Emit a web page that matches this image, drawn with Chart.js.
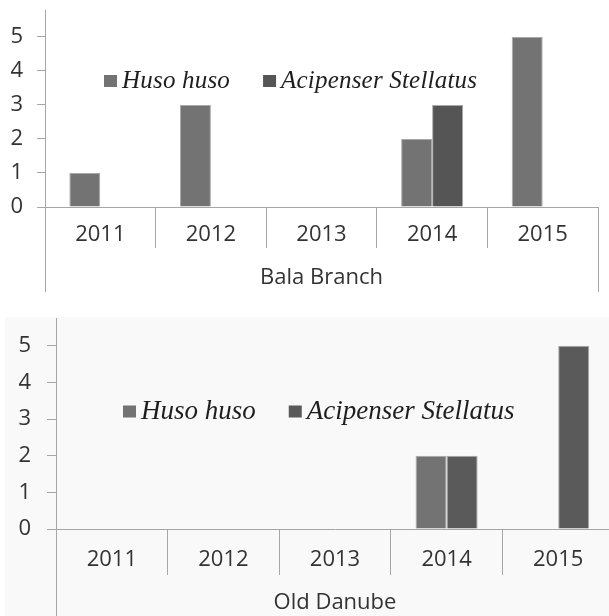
<!DOCTYPE html>
<html lang="en">
<head>
<meta charset="UTF-8">
<title>Sturgeon records</title>
<script src="https://cdn.jsdelivr.net/npm/chart.js"></script>
<style>
    body { margin: 0; width: 609px; height: 616px; overflow: hidden; background: #fff; position: relative; }
    #balaChart { position: absolute; left: 0; top: 0; }
    #danubeBox { position: absolute; left: 5px; top: 317px; width: 604px; height: 299px; background: #f9f9f9; overflow: hidden; }
    #danubeChart { position: absolute; left: 0; top: 0; }
</style>
</head>
<body>
<canvas id="balaChart" width="609" height="296"></canvas>
<div id="danubeBox"><canvas id="danubeChart" width="609" height="299"></canvas></div>
<script>
// values
const years = ['2011', '2012', '2013', '2014', '2015'];
const species = ['Huso huso', 'Acipenser Stellatus'];
const balaHuso = [1, 3, 0, 2, 5];
const balaStellatus = [0, 0, 0, 3, 0];
const danubeHuso = [0, 0, 0, 2, 0];
const danubeStellatus = [0, 0, 0, 2, 5];

const axisColor = '#a6a6a6';
const textColor = '#333333';
const labelFont = { family: 'Open Sans', size: 22 };

// outer category lines + legend drawn inside the plot
const panelPlugin = {
    id: 'panel',
    afterDraw(chart, args, opts) {
        const ctx = chart.ctx;
        const xs = chart.scales.x;
        const area = chart.chartArea;
        ctx.save();
        ctx.strokeStyle = axisColor;
        ctx.lineWidth = 1;
        ctx.beginPath();
        [xs.left, xs.right].forEach(px => {
            const p = Math.round(px) + 0.5;
            ctx.moveTo(p, area.bottom);
            ctx.lineTo(p, xs.bottom);
        });
        ctx.stroke();

        let lx = area.left + opts.legendX;
        const ly = area.top + opts.legendY;
        ctx.font = 'italic ' + opts.legendSize + 'px "Liberation Serif"';
        ctx.letterSpacing = opts.spacing + 'px';
        ctx.textBaseline = 'middle';
        ctx.textAlign = 'left';
        chart.data.datasets.forEach(ds => {
            ctx.fillStyle = ds.backgroundColor;
            ctx.fillRect(lx, ly - 6, 13, 12);
            lx += 18;
            ctx.fillStyle = '#1e1e1e';
            ctx.fillText(ds.label, lx, ly);
            lx += ctx.measureText(ds.label).width + opts.gap;
        });
        ctx.restore();
    }
};

function makePanel(id, huso, stellatus, group, cfg) {
    return new Chart(document.getElementById(id), {
        type: 'bar',
        data: {
            labels: years,
            datasets: [{
                label: species[0],
                data: huso,
                backgroundColor: '#737373',
                borderColor: '#a8a8a8',
                borderWidth: c => c.raw ? 1 : 0
            }, {
                label: species[1],
                data: stellatus,
                backgroundColor: cfg.darkColor,
                borderColor: '#a8a8a8',
                borderWidth: c => c.raw ? 1 : 0
            }]
        },
        options: {
            responsive: false,
            animation: false,
            layout: { padding: { top: cfg.top, right: cfg.right, left: 0, bottom: cfg.bottom } },
            datasets: { bar: { categoryPercentage: cfg.catPct, barPercentage: 1 } },
            plugins: {
                legend: { display: false },
                tooltip: { enabled: false },
                panel: cfg.legend
            },
            scales: {
                x: {
                    offset: true,
                    grid: { offset: true, drawOnChartArea: false, drawTicks: true, tickLength: cfg.xTick, color: axisColor },
                    border: { color: axisColor },
                    ticks: { font: labelFont, color: textColor, padding: cfg.xPad, maxRotation: 0 },
                    title: { display: true, text: group, font: labelFont, color: textColor, padding: { top: 0, bottom: cfg.titlePad } },
                    afterFit: s => { s.height = cfg.xHeight; }
                },
                y: {
                    min: 0,
                    max: cfg.yMax,
                    grid: { drawOnChartArea: false, drawTicks: true, tickLength: cfg.yTick, color: axisColor },
                    border: { color: axisColor },
                    ticks: {
                        stepSize: 1,
                        font: { family: 'Open Sans', size: 22 },
                        color: textColor,
                        padding: cfg.yPad,
                        callback: v => Number.isInteger(v) ? v : null
                    },
                    afterFit: s => {
                        s.width = cfg.yWidth;
                        s.paddingTop = 0;
                        s.paddingBottom = 0;
                    }
                }
            }
        },
        plugins: [panelPlugin]
    });
}

makePanel('balaChart', balaHuso, balaStellatus, 'Bala Branch', {
    darkColor: '#555555',
    top: 10, right: 11, bottom: 4,
    catPct: 0.56,
    xTick: 41, xPad: -26.2, xHeight: 85, titlePad: 1,
    yMax: 5.79, yTick: 8, yPad: 14, yWidth: 45,
    legend: { legendX: 59, legendY: 71, legendSize: 25, spacing: 0.2, gap: 33 }
});

makePanel('danubeChart', danubeHuso, danubeStellatus, 'Old Danube', {
    darkColor: '#5a5a5a',
    top: 1, right: 0, bottom: 0,
    catPct: 0.556,
    xTick: 46, xPad: -28.2, xHeight: 87, titlePad: 0,
    yMax: 5.76, yTick: 9, yPad: 16, yWidth: 51,
    legend: { legendX: 67, legendY: 93.5, legendSize: 27, spacing: 0, gap: 33 }
});
</script>
</body>
</html>
